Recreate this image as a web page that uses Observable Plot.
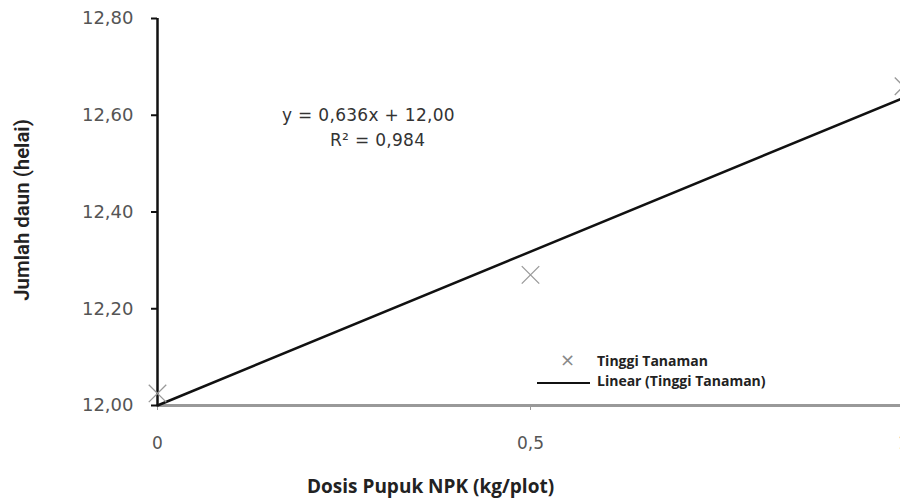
<!DOCTYPE html>
<html><head><meta charset="utf-8">
<script src="https://cdn.jsdelivr.net/npm/d3@7"></script>
<script src="https://cdn.jsdelivr.net/npm/@observablehq/plot@0.6"></script>
<style>
body{margin:0;background:#fff;}
#wrap{position:relative;width:900px;height:500px;overflow:hidden;font-family:"DejaVu Sans",sans-serif;}
.ov{position:absolute;white-space:nowrap;line-height:1.1;}
</style></head><body>
<div id="wrap"></div>
<script>
const doses = [0, 0.5, 1];
const leaves = [12.025, 12.27, 12.66];
const yTicks = [12.0, 12.2, 12.4, 12.6, 12.8];
const xTicks = [0, 0.5, 1];
const xTickLabels = ["0", "0,5", "1"];
const fitCoef = {slope: 0.636, intercept: 12.00};
const eqText = ["y = 0,636x + 12,00", "R² = 0,984"];
const seriesName = "Tinggi Tanaman";
const fitName = "Linear (Tinggi Tanaman)";
const xTitle = "Dosis Pupuk NPK (kg/plot)";
const yTitle = "Jumlah daun (helai)";

const data = doses.map((d, i) => ({x: d, y: leaves[i]}));
const fitData = [0, 1].map(x => ({x, y: fitCoef.intercept + fitCoef.slope * x}));
const loc = d3.formatLocale({decimal: ",", thousands: "."});
const fmt2 = loc.format(".2f");

const chart = Plot.plot({
  width: 900, height: 500,
  marginTop: 18, marginBottom: 95, marginLeft: 157, marginRight: 0,
  style: {fontFamily: "DejaVu Sans, sans-serif", overflow: "visible"},
  x: {domain: [0, 1], range: [157, 903]},
  y: {domain: [12, 12.8], range: [405, 18]},
  marks: [
    Plot.ruleY([12], {stroke: "#999", strokeWidth: 3}),
    Plot.axisX({ticks: xTicks, tickFormat: (d, i) => xTickLabels[i], tickSize: 5, stroke: "#999", tickPadding: 26, fontSize: 17, fill: "#555", label: null, style: {letterSpacing: "1px"}}),
    Plot.axisY({ticks: yTicks, tickFormat: fmt2, tickSize: 6, stroke: "#111", strokeWidth: 2, tickPadding: 18, fontSize: 18, fill: "#555", label: null, style: {letterSpacing: "2.8px"}}),
    Plot.ruleX([0], {y1: 12, y2: 12.8, stroke: "#111", strokeWidth: 2.5}),
    Plot.line(fitData, {x: "x", y: "y", stroke: "#111", strokeWidth: 2.5}),
    Plot.dot(data, {x: "x", y: "y", symbol: "times", r: 8, stroke: "#999", strokeWidth: 1.3})
  ]
});
const wrap = document.getElementById("wrap");
wrap.appendChild(chart);

function ov(html, css) {
  const d = document.createElement("div");
  d.className = "ov";
  d.textContent = html;
  Object.assign(d.style, css);
  wrap.appendChild(d);
  return d;
}
ov(eqText[0], {left: "282px", top: "106px", fontSize: "17px", color: "#333", letterSpacing: "0.3px"});
ov(eqText[1], {left: "330px", top: "131px", fontSize: "17px", color: "#333", letterSpacing: "0.3px"});
ov(xTitle, {left: "307px", top: "476px", fontSize: "19px", fontWeight: "bold", color: "#222", fontFamily: "Open Sans, DejaVu Sans, sans-serif"});
ov(yTitle, {left: "22px", top: "210px", fontSize: "20px", fontWeight: "600", color: "#222", fontFamily: "Liberation Sans Narrow, Roboto, sans-serif", transform: "translate(-50%,-50%) rotate(-90deg) scaleX(1.02)", transformOrigin: "center"});
// legend
ov("×", {left: "560px", top: "350px", fontSize: "18px", color: "#888"});
ov("", {left: "537px", top: "382px", width: "53px", height: "0", borderTop: "2px solid #111"});
ov(seriesName, {left: "597px", top: "353px", fontSize: "14px", fontWeight: "bold", color: "#222", fontFamily: "Open Sans, sans-serif"});
ov(fitName, {left: "597px", top: "373px", fontSize: "14px", fontWeight: "bold", color: "#222", fontFamily: "Open Sans, sans-serif"});
</script>
</body></html>
